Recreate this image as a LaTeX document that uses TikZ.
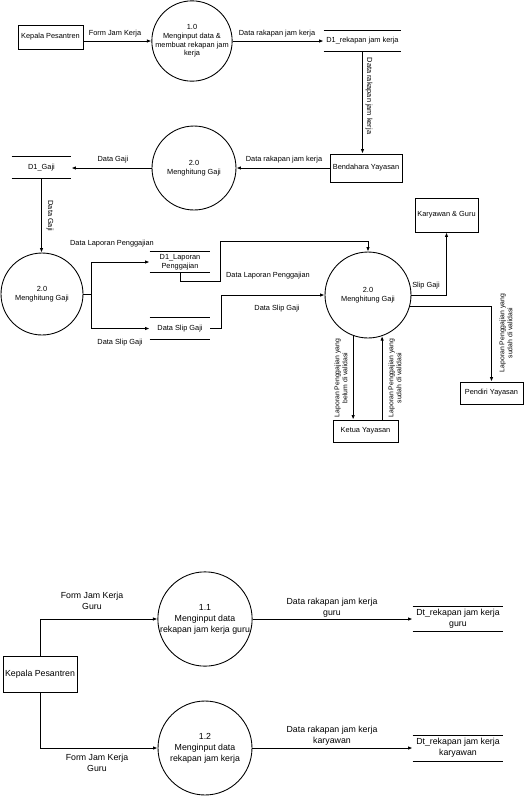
\documentclass[tikz,border=0pt]{standalone}
\usepackage{fontspec}
\setmainfont{Liberation Sans}
\usetikzlibrary{arrows.meta}

\begin{document}
\begin{tikzpicture}[x=0.02cm, y=-0.02cm, line width=0.5pt,
  small/.style={font=\fontsize{4.2}{5}\selectfont},
  tiny/.style={font=\fontsize{3.9}{4.6}\selectfont},
  big/.style={font=\fontsize{5}{6.2}\selectfont},
  entity/.style={draw, rectangle, inner sep=1pt},
  process/.style={draw, circle, align=center, inner sep=0pt},
  store/.style={rectangle, align=center, inner sep=1pt},
  flow/.style={-{Latex[length=0.9mm, width=0.7mm]}},
  lbl/.style={align=center, inner sep=0pt}]
\useasboundingbox (0,0) rectangle (526,796);

% upper diagram
\node[entity, small, minimum width=1.3cm, minimum height=0.48cm] (kp) at (50.5, 37) {Kepala Pesantren};
\node[process, small, minimum size=1.6cm] (p10) at (192, 41) {1.0\\Menginput data \&\\membuat rekapan jam\\kerja};
\node[store, small, minimum width=1.54cm, minimum height=0.4cm] (d1rek) at (362.5, 41) {D1\_rekapan jam kerja};
\node[entity, small, minimum width=1.44cm, minimum height=0.56cm] (bend) at (366, 168) {Bendahara Yayasan};
\node[process, small, minimum size=1.68cm] (p20a) at (194, 168) {2.0\\Menghitung Gaji};
\node[store, small, minimum width=1.18cm, minimum height=0.42cm] (d1gaji) at (41.5, 167.5) {D1\_Gaji};
\node[process, small, minimum size=1.64cm] (p20b) at (42, 294) {2.0\\Menghitung Gaji};
\node[store, small, minimum width=1.2cm, minimum height=0.4cm] (d1lap) at (180, 262) {D1\_Laporan\\Penggajian};
\node[store, small, minimum width=1.2cm, minimum height=0.42cm] (slip) at (180, 328.5) {Data Slip Gaji};
\node[process, small, minimum size=1.72cm] (p20c) at (368, 295) {2.0\\Menghitung Gaji};
\node[entity, small, minimum width=1.26cm, minimum height=0.68cm] (kg) at (446.5, 215) {Karyawan \& Guru};
\node[entity, small, minimum width=1.26cm, minimum height=0.44cm] (pendiri) at (491.5, 393) {Pendiri Yayasan};
\node[entity, small, minimum width=1.3cm, minimum height=0.44cm] (ketua) at (365.5, 431) {Ketua Yayasan};

\foreach \s in {d1rek, d1gaji, d1lap, slip}
  \draw (\s.north west) -- (\s.north east) (\s.south west) -- (\s.south east);

\coordinate (split) at (91, 294);
\coordinate (lapdown) at (180, 281);
\coordinate (lapbend) at (220, 241);
\coordinate (slipbend) at (221, 295);

\draw[flow] (p10.west -| kp.east) -- (p10.west);
\draw[flow] (p10.east) -- (p10.east -| d1rek.west);
\draw[flow] (d1rek.south) -- (d1rek.south |- bend.north);
\draw[flow] (bend.west) -- (p20a.east);
\draw[flow] (p20a.west) -- (p20a.west -| d1gaji.east);
\draw[flow] (d1gaji.south) -- (d1gaji.south |- p20b.north);
\draw (p20b.east) -- (split);
\draw[flow] (split) |- (d1lap.west);
\draw[flow] (split) |- (slip.west);
\draw[flow] (d1lap.south) -- (lapdown) -| (lapbend) -| (p20c.north);
\draw[flow] (slip.east) -| (slipbend) -- (p20c.west);
\draw[flow] (p20c.east) -| (kg.south);
\draw[flow] (p20c.-15) -| (pendiri.north);
\draw[flow] (p20c.-110) -- (p20c.-110 |- ketua.north);
\draw[flow] (ketua.north -| p20c.-71) -- (p20c.-71);

\node[lbl, small] (l1) at (115, 34) {Form Jam Kerja};
\node[lbl, small] (l2) at (277, 34) {Data rakapan jam kerja};
\node[lbl, small, rotate=-90] (l3) at (369, 96) {Data rakapan jam kerja};
\node[lbl, small] (l4) at (284, 160) {Data rakapan jam kerja};
\node[lbl, small] (l5) at (113, 160) {Data Gaji};
\node[lbl, small, rotate=-90] (l6) at (50, 216) {Data Gaji};
\node[lbl, small] (l7) at (112, 244) {Data Laporan Penggajian};
\node[lbl, small] (l8) at (120, 343) {Data Slip Gaji};
\node[lbl, small] (l9) at (268, 276) {Data Laporan Penggajian};
\node[lbl, small] (l10) at (277, 309) {Data Slip Gaji};
\node[lbl, small] (l11) at (426, 286) {Slip Gaji};
\node[lbl, tiny, rotate=90] (l12) at (506, 333) {Laporan Penggajian yang\\sudah di validasi};
\node[lbl, tiny, rotate=90] (l13) at (341, 378) {Laporan Penggajian yang\\belum di validasi};
\node[lbl, tiny, rotate=90] (l14) at (395, 378) {Laporan Penggajian yang\\sudah di validasi};

% lower diagram
\node[entity, big, minimum width=1.48cm, minimum height=0.72cm] (kp2) at (40, 674) {Kepala Pesantren};
\node[process, big, minimum size=1.88cm] (p11) at (205, 619) {1.1\\Menginput data\\rekapan jam kerja guru};
\node[process, big, minimum size=1.88cm] (p12) at (205, 748) {1.2\\Menginput data\\rekapan jam kerja};
\node[store, big, minimum width=1.8cm, minimum height=0.48cm] (dtguru) at (458, 619) {Dt\_rekapan jam kerja\\guru};
\node[store, big, minimum width=1.8cm, minimum height=0.5cm] (dtkar) at (458, 748) {Dt\_rekapan jam kerja\\karyawan};

\foreach \s in {dtguru, dtkar}
  \draw (\s.north west) -- (\s.north east) (\s.south west) -- (\s.south east);

\draw[flow] (kp2.north) |- (p11.west);
\draw[flow] (kp2.south) |- (p12.west);
\draw[flow] (p11.east) -- (dtguru.west);
\draw[flow] (p12.east) -- (dtkar.west);

\node[lbl, big] (m1) at (92, 601) {Form Jam Kerja\\Guru};
\node[lbl, big] (m2) at (97, 763) {Form Jam Kerja\\Guru};
\node[lbl, big] (m3) at (332, 608) {Data rakapan jam kerja\\guru};
\node[lbl, big] (m4) at (332, 736) {Data rakapan jam kerja\\karyawan};
\end{tikzpicture}
\end{document}
